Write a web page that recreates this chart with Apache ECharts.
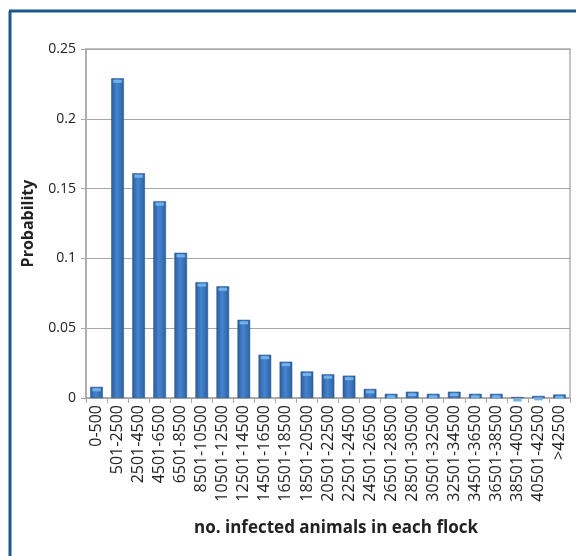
<!DOCTYPE html>
<html><head><meta charset="utf-8">
<script src="https://cdn.jsdelivr.net/npm/echarts@6/dist/echarts.min.js"></script>
<style>html,body{margin:0;padding:0;background:#fff}#c{width:576px;height:556px}</style>
</head><body><div id="c"></div>
<script>
const categories = ["0-500","501-2500","2501-4500","4501-6500","6501-8500","8501-10500","10501-12500","12501-14500","14501-16500","16501-18500","18501-20500","20501-22500","22501-24500","24501-26500","26501-28500","28501-30500","30501-32500","32501-34500","34501-36500","36501-38500","38501-40500","40501-42500",">42500"];
const probability = [0.008,0.229,0.161,0.141,0.104,0.083,0.080,0.056,0.031,0.026,0.019,0.017,0.016,0.0065,0.003,0.0045,0.003,0.0045,0.003,0.003,0.0007,0.0015,0.0025];
const yTicks = {min:0, max:0.25, interval:0.05};

const chart = echarts.init(document.getElementById('c'));
const font = '"Open Sans", "Noto Sans", sans-serif';
chart.setOption({
  animation:false,
  grid:{left:86,right:6,top:49,bottom:158,show:true,borderColor:'#b0b0b0',borderWidth:1.5},
  xAxis:{type:'category',data:categories,
    axisLine:{lineStyle:{color:'#a8a8a8',width:1.5}},
    axisTick:{show:true,length:5,lineStyle:{color:'#a8a8a8'}},
    axisLabel:{rotate:90,interval:0,color:'#222',fontFamily:font,fontSize:16,margin:7},
    name:'no. infected animals in each flock',nameLocation:'middle',nameGap:122,
    nameTextStyle:{fontFamily:font,fontWeight:'bold',fontSize:17,color:'#222',padding:[0,0,0,16]}},
  yAxis:{type:'value',min:yTicks.min,max:yTicks.max,interval:yTicks.interval,
    axisLine:{show:true,lineStyle:{color:'#a8a8a8',width:1.5}},
    axisTick:{show:true,length:5,lineStyle:{color:'#a8a8a8'}},
    splitLine:{lineStyle:{color:'#a8a8a8',width:1}},
    axisLabel:{color:'#222',fontFamily:font,fontSize:14,margin:10,formatter:v=>String(+v.toFixed(2))},
    name:'Probability',nameLocation:'middle',nameGap:50,
    nameTextStyle:{fontFamily:font,fontWeight:'bold',fontSize:16,color:'#222'}},
  series:[{type:'bar',data:probability,barWidth:'60%',
    itemStyle:{color:new echarts.graphic.LinearGradient(0,0,1,0,[
      {offset:0,color:'#2a5d9c'},{offset:0.45,color:'#4684cf'},{offset:1,color:'#2b609f'}]),
      borderColor:'#244f85',borderWidth:0.5}},
    {type:'pictorialBar',data:probability,symbol:'rect',symbolPosition:'end',
      symbolSize:['58%',3],symbolOffset:[0,'50%'],z:3,
      itemStyle:{color:'#72b2ea'}}],
  graphic:[
    {type:'line',shape:{x1:10,y1:11,x2:10,y2:556},style:{stroke:'#1b5a8e',lineWidth:3}},
    {type:'line',shape:{x1:9,y1:11,x2:576,y2:11},style:{stroke:'#1b5a8e',lineWidth:3}}
  ]
});
</script></body></html>
